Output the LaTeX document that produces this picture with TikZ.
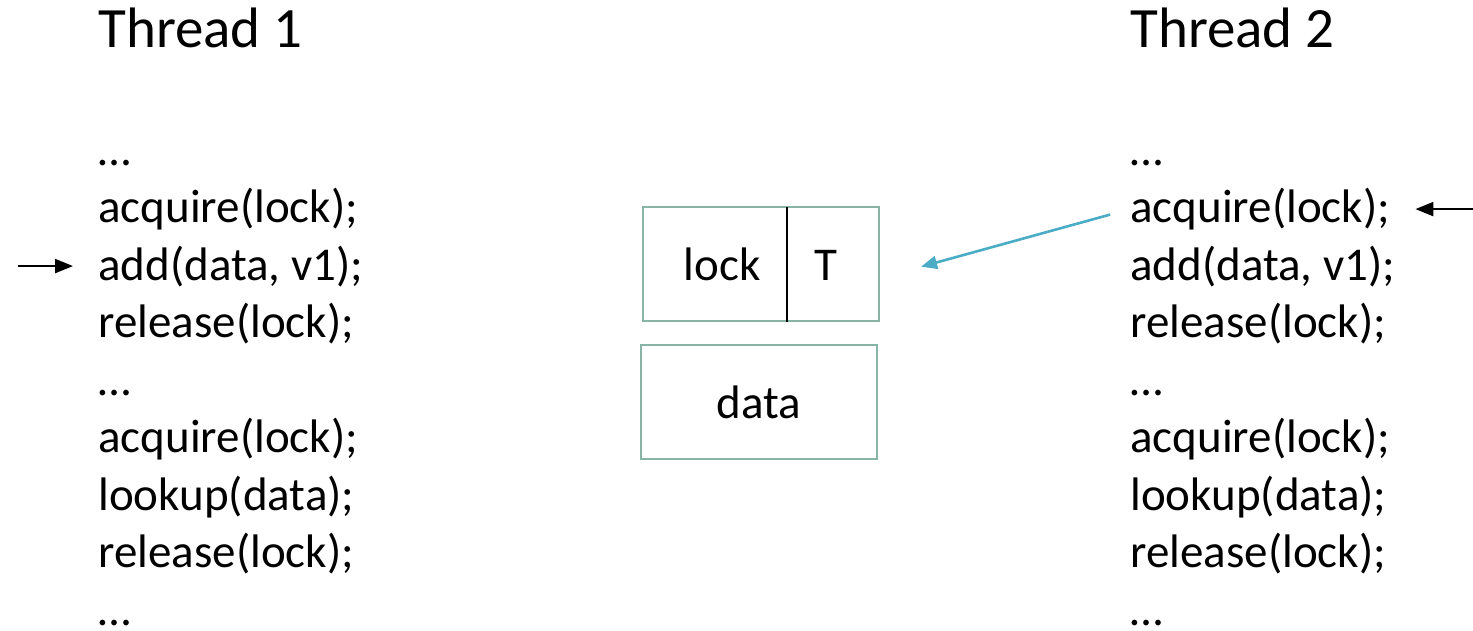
\documentclass[tikz,border=0pt]{standalone}
\usepackage{fontspec}
\setmainfont{Carlito}
\usetikzlibrary{positioning,arrows.meta}
\definecolor{boxgreen}{RGB}{134,180,166}
\definecolor{ptrblue}{RGB}{75,172,198}

\begin{document}
\begin{tikzpicture}[x=0.5pt,y=-0.5pt,
		every node/.style={
			inner sep=0pt,
			font=\fontsize{23.5}{28}\selectfont},
		title/.style={anchor=base west,font=\fontsize{28.5}{34}\selectfont},
		codeline/.style={anchor=base west},
		membox/.style={draw=boxgreen,line width=1.2pt,minimum width=118pt,minimum height=57pt},
		pointer/.style={->,line width=1.1pt,shorten >=12.5pt},
		>={Triangle[length=9pt,width=7pt]}]
	
	\useasboundingbox (0,0) rectangle (1473,631);
	
	\node[title] (t1) at (98,48) {Thread 1};
	\node[title] (t2) at (1130,48) {Thread 2};
	
	% the two threads run the same code
	\foreach \txt [count=\i] in {…, acquire(lock);, {add(data, v1);}, release(lock);, …, acquire(lock);, lookup(data);, release(lock);, …} {
		\node[codeline] (l\i) at (98,{165+(\i-1)*57.5}) {\txt};
		\node[codeline] (r\i) at (1130,{165+(\i-1)*57.5}) {\txt};
	}
	
	% shared memory
	\node[membox] (lockbox) at (761,264) {};
	\node[anchor=base] (lockname) at (722,280) {lock};
	\node[anchor=base] (lockval) at (826,280) {T};
	\coordinate (divtop) at (787,207);
	\draw[line width=1pt] (divtop) -- (divtop |- lockbox.south);
	
	\node[membox] (databox) at (759,402) {data};
	
	% program counters
	\coordinate (pc1) at (18,271);
	\coordinate (pc2) at (1473,211);
	\draw[pointer] (pc1 |- l3.west) -- (l3.west);
	\draw[pointer] (pc2 |- r2.west) -- (r2.east);
	
	\draw[->,ptrblue,line width=1.3pt,shorten <=10.3pt,shorten >=21.2pt,
		>={Triangle[length=8pt,width=6.5pt]}] (r2.west) -- ([yshift=-7pt]lockbox.east);
	
\end{tikzpicture}
\end{document}
